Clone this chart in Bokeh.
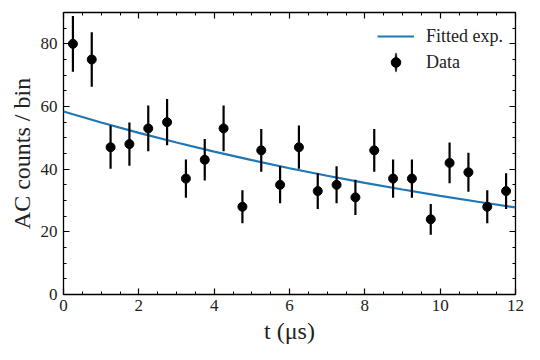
import numpy as np
from bokeh.plotting import figure
from bokeh.models import (ColumnDataSource, LinearAxis, SingleIntervalTicker, Range1d,
                          Legend, LegendItem, CustomJSTickFormatter)
from bokeh.embed import file_html
from bokeh.resources import INLINE

# Data
t_bins = [0.25, 0.75, 1.25, 1.75, 2.25, 2.75, 3.25, 3.75, 4.25, 4.75, 5.25, 5.75,
          6.25, 6.75, 7.25, 7.75, 8.25, 8.75, 9.25, 9.75, 10.25, 10.75, 11.25, 11.75]
counts = [80, 75, 47, 48, 53, 55, 37, 43, 53, 28, 46, 35,
          47, 33, 35, 31, 46, 37, 37, 24, 42, 39, 28, 33]
errors = [8.9, 8.7, 6.9, 6.9, 7.3, 7.4, 6.1, 6.6, 7.3, 5.3, 6.8, 5.9,
          6.9, 5.7, 5.9, 5.6, 6.8, 6.1, 6.1, 4.9, 6.5, 6.2, 5.3, 5.7]
fit_t = [0, 1, 2, 3, 4, 5, 6, 7, 8, 9, 10, 11, 12]
fit_y = [58.4, 54.9, 51.6, 48.5, 45.6, 42.9, 40.3, 37.9, 35.6, 33.5, 31.5, 29.6, 27.8]

FONT = "Liberation Serif"

src = ColumnDataSource(dict(
    x=t_bins, y=counts,
    lo=[c - e for c, e in zip(counts, errors)],
    hi=[c + e for c, e in zip(counts, errors)],
))

p = figure(width=530, height=351, output_backend="svg", toolbar_location=None,
           x_range=Range1d(0, 12), y_range=Range1d(0, 90),
           min_border_left=63, min_border_right=15, min_border_top=12, min_border_bottom=57)
p.grid.visible = False
p.outline_line_color = "black"
p.outline_line_width = 1.3

fit_r = p.line(fit_t, fit_y, line_color="#1f77b4", line_width=2.2)
p.segment(x0="x", y0="lo", x1="x", y1="hi", source=src, line_color="black", line_width=2.2)
pts = p.scatter(x="x", y="y", source=src, size=9, color="black")

# legend-only glyphs (a thin tall ellipse stands for the error bar)
dsrc = ColumnDataSource(dict(x=[np.nan], y=[np.nan]))
bar = p.ellipse(x="x", y="y", width=2, height=18, width_units="screen", height_units="screen",
                source=dsrc, fill_color="black", line_color="black", line_width=0.5)
dot = p.scatter(x="x", y="y", source=dsrc, size=9, color="black")

legend = Legend(items=[LegendItem(label="Fitted exp.", renderers=[fit_r]),
                       LegendItem(label="Data", renderers=[bar, dot])],
                location="top_right")
legend.background_fill_alpha = 0
legend.border_line_color = None
legend.label_text_font = FONT
legend.label_text_font_size = "18px"
legend.label_text_color = "#222222"
legend.glyph_width = 37
legend.glyph_height = 24
legend.label_height = 24
legend.spacing = 2
legend.label_standoff = 12
legend.margin = 12
legend.padding = 5
p.add_layout(legend)

def style(ax, show_labels=True):
    ax.major_tick_in = 6
    ax.major_tick_out = 0
    ax.minor_tick_in = 3
    ax.minor_tick_out = 0
    ax.major_tick_line_width = 1.2
    ax.minor_tick_line_width = 1
    ax.axis_line_color = None
    ax.major_label_text_font = FONT
    ax.major_label_text_font_size = "17px"
    ax.major_label_text_color = "#222222"
    ax.axis_label_text_font = FONT
    ax.axis_label_text_font_style = "normal"
    ax.axis_label_text_font_size = "24px"
    ax.axis_label_text_color = "#222222"
    if not show_labels:
        ax.formatter = CustomJSTickFormatter(code="return ''")
        ax.major_label_standoff = 0

xt = SingleIntervalTicker(interval=2, num_minor_ticks=4)
yt = SingleIntervalTicker(interval=20, num_minor_ticks=4)
p.xaxis.ticker = xt
p.yaxis.ticker = yt
p.xaxis.axis_label = "t (μs)"
p.yaxis.axis_label = "AC counts / bin"
style(p.xaxis[0])
style(p.yaxis[0])
p.xaxis.major_label_standoff = 5
p.yaxis.major_label_standoff = 6
p.xaxis.axis_label_standoff = 4
p.yaxis.axis_label_standoff = 3

top = LinearAxis(ticker=SingleIntervalTicker(interval=2, num_minor_ticks=4))
right = LinearAxis(ticker=SingleIntervalTicker(interval=20, num_minor_ticks=4))
style(top, False)
style(right, False)
p.add_layout(top, "above")
p.add_layout(right, "right")

open("out.html", "w").write(file_html(p, INLINE))
